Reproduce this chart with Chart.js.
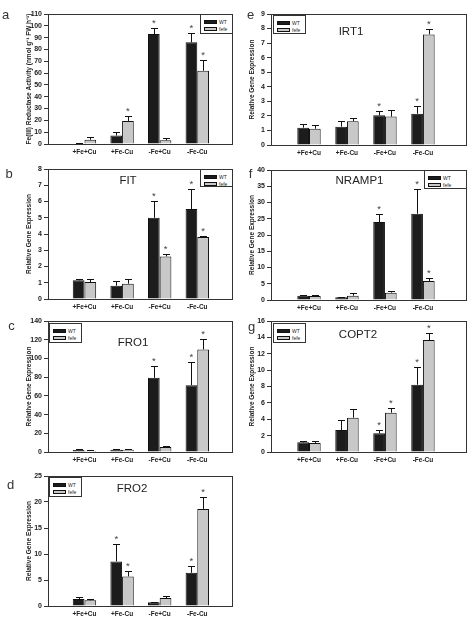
<!DOCTYPE html>
<html><head><meta charset="utf-8">
<script src="https://cdn.jsdelivr.net/npm/chart.js@4.4.0/dist/chart.umd.min.js"></script>
<style>
html,body{margin:0;padding:0;background:#fff;}
#fig{position:relative;width:468px;height:625px;overflow:hidden;background:#fff;font-family:"Liberation Sans",Arial,sans-serif;}
#fig canvas{position:absolute;}
.lt{position:absolute;font-size:13px;color:#333;line-height:1;transform:translate(-50%,-50%);z-index:3;}
.gene{position:absolute;font-size:11.5px;color:#222;transform:translate(-50%,-50%);white-space:nowrap;line-height:1;z-index:3;}
.leg{position:absolute;border:1px solid #333;background:#fff;box-sizing:border-box;z-index:3;}
.leg .sw{position:absolute;left:3px;width:13px;height:4px;border:1px solid #111;box-sizing:border-box;}
.leg .tx{position:absolute;left:18px;font-size:5px;line-height:5px;color:#222;white-space:nowrap;}
</style></head>
<body><div id="fig"></div>
<script>
// ---------- data ----------
const categories = ['+Fe+Cu', '+Fe-Cu', '-Fe+Cu', '-Fe-Cu'];
const seriesNames = ['WT', 'fefe'];

const reductaseWT = [0.5, 7.2, 93, 86];
const reductaseWTErr = [0.3, 3, 5, 8.3];
const reductaseFefe = [3.6, 19.5, 3.1, 62];
const reductaseFefeErr = [2.3, 4.6, 2.2, 9];
const reductaseWTStar = [0, 0, 1, 1];
const reductaseFefeStar = [0, 1, 0, 1];

const fitWT = [1.15, 0.82, 5.0, 5.54];
const fitWTErr = [0.07, 0.27, 1.03, 1.25];
const fitFefe = [1.04, 0.94, 2.62, 3.82];
const fitFefeErr = [0.22, 0.29, 0.15, 0.04];
const fitWTStar = [0, 0, 1, 1];
const fitFefeStar = [0, 0, 1, 1];

const fro1WT = [2.1, 2.5, 79.3, 71.4];
const fro1WTErr = [1, 0.7, 12.5, 24.3];
const fro1Fefe = [1.4, 2.5, 5.4, 109.6];
const fro1FefeErr = [0.3, 0.3, 1.4, 11.4];
const fro1WTStar = [0, 0, 1, 1];
const fro1FefeStar = [0, 0, 0, 1];

const fro2WT = [1.34, 8.57, 0.7, 6.39];
const fro2WTErr = [0.38, 3.26, 0.13, 1.35];
const fro2Fefe = [1.09, 5.69, 1.53, 18.67];
const fro2FefeErr = [0.19, 1.09, 0.38, 2.37];
const fro2WTStar = [0, 1, 0, 1];
const fro2FefeStar = [0, 1, 0, 1];

const irt1WT = [1.19, 1.26, 2.04, 2.15];
const irt1WTErr = [0.25, 0.41, 0.27, 0.53];
const irt1Fefe = [1.12, 1.63, 1.95, 7.6];
const irt1FefeErr = [0.28, 0.22, 0.45, 0.39];
const irt1WTStar = [0, 0, 1, 1];
const irt1FefeStar = [0, 0, 0, 1];

const nramp1WT = [1.33, 0.82, 24.0, 26.56];
const nramp1WTErr = [0.1, 0.2, 2.56, 7.5];
const nramp1Fefe = [1.23, 1.33, 2.26, 5.85];
const nramp1FefeErr = [0.3, 0.7, 0.6, 0.82];
const nramp1WTStar = [0, 0, 1, 1];
const nramp1FefeStar = [0, 0, 0, 1];

const copt2WT = [1.18, 2.69, 2.28, 8.22];
const copt2WTErr = [0.16, 1.26, 0.45, 2.2];
const copt2Fefe = [1.1, 4.19, 4.8, 13.68];
const copt2FefeErr = [0.28, 1.02, 0.6, 0.86];
const copt2WTStar = [0, 0, 1, 1];
const copt2FefeStar = [0, 0, 1, 1];

const yTitleReductase = 'Fe(III) Reductase Activity (nmol g\u207B\u00B9 FW h\u207B\u00B9)';
const yTitleGene = 'Relative Gene Expression';

// ---------- panels (geometry separate from data) ----------
const panels = [
  {letter:'a', lx:5.5, ly:14, gene:null, L:48, T:14, R:233, B:144, xMin:0.03, xMax:4.95, yMax:110, step:10, yTitle:yTitleReductase, tsize:6.5,
   wt:reductaseWT, wtErr:reductaseWTErr, fe:reductaseFefe, feErr:reductaseFefeErr, wtStar:reductaseWTStar, feStar:reductaseFefeStar,
   leg:{x:200, y:14, w:33, h:20}},
  {letter:'b', lx:9, ly:173, gene:'FIT', gx:128, gy:181, L:48, T:169, R:233, B:299, xMin:0.03, xMax:4.95, yMax:8, step:1, yTitle:yTitleGene, tsize:6.5,
   wt:fitWT, wtErr:fitWTErr, fe:fitFefe, feErr:fitFefeErr, wtStar:fitWTStar, feStar:fitFefeStar,
   leg:{x:200, y:169, w:33, h:18}},
  {letter:'c', lx:11.5, ly:325, gene:'FRO1', gx:133, gy:343, L:48, T:321, R:233, B:452, xMin:0.03, xMax:4.95, yMax:140, step:20, yTitle:yTitleGene, tsize:6.5,
   wt:fro1WT, wtErr:fro1WTErr, fe:fro1Fefe, feErr:fro1FefeErr, wtStar:fro1WTStar, feStar:fro1FefeStar,
   leg:{x:49, y:323, w:33, h:20}},
  {letter:'d', lx:10.5, ly:483.5, gene:'FRO2', gx:132, gy:489, L:48, T:476, R:233, B:606, xMin:0.03, xMax:4.95, yMax:25, step:5, yTitle:yTitleGene, tsize:6.5,
   wt:fro2WT, wtErr:fro2WTErr, fe:fro2Fefe, feErr:fro2FefeErr, wtStar:fro2WTStar, feStar:fro2FefeStar,
   leg:{x:49, y:477, w:33, h:20}},
  {letter:'e', lx:250.5, ly:14, gene:'IRT1', gx:351, gy:32, L:271, T:14, R:467, B:145, xMin:0, xMax:5.16, yMax:9, step:1, yTitle:yTitleGene, tsize:6.5,
   wt:irt1WT, wtErr:irt1WTErr, fe:irt1Fefe, feErr:irt1FefeErr, wtStar:irt1WTStar, feStar:irt1FefeStar,
   leg:{x:273, y:15, w:33, h:19}},
  {letter:'f', lx:250.5, ly:173, gene:'NRAMP1', gx:359.5, gy:181, L:271, T:170, R:467, B:300, xMin:0, xMax:5.16, yMax:40, step:5, yTitle:yTitleGene, tsize:6.5,
   wt:nramp1WT, wtErr:nramp1WTErr, fe:nramp1Fefe, feErr:nramp1FefeErr, wtStar:nramp1WTStar, feStar:nramp1FefeStar,
   leg:{x:424, y:170, w:43, h:19}},
  {letter:'g', lx:251.5, ly:326, gene:'COPT2', gx:358, gy:335, L:271, T:321, R:467, B:452, xMin:0, xMax:5.16, yMax:16, step:2, yTitle:yTitleGene, tsize:6.5,
   wt:copt2WT, wtErr:copt2WTErr, fe:copt2Fefe, feErr:copt2FefeErr, wtStar:copt2WTStar, feStar:copt2FefeStar,
   leg:{x:273, y:323, w:33, h:20}}
];

Chart.defaults.font.family = '"Liberation Sans", Arial, sans-serif';

const framePlugin = {
  id: 'frame',
  afterDatasetsDraw(chart) {
    const a = chart.chartArea, ctx = chart.ctx;
    ctx.save();
    ctx.strokeStyle = '#333';
    ctx.lineWidth = 1;
    ctx.strokeRect(Math.round(a.left) + 0.5, Math.round(a.top) + 0.5,
                   Math.round(a.right - a.left) - 1, Math.round(a.bottom - a.top));
    ctx.restore();
  }
};

const errPlugin = {
  id: 'errbars',
  afterDatasetsDraw(chart) {
    const ctx = chart.ctx, ys = chart.scales.y;
    chart.data.datasets.forEach((ds, di) => {
      const meta = chart.getDatasetMeta(di);
      meta.data.forEach((bar, j) => {
        const v = ds.data[j].y, e = ds.err[j];
        const x = Math.round(bar.x) + 0.5;
        const y0 = bar.y;
        const y1 = Math.round(ys.getPixelForValue(v + e)) + 0.5;
        ctx.save();
        ctx.strokeStyle = '#111';
        ctx.lineWidth = 1;
        ctx.beginPath();
        ctx.moveTo(x, y0); ctx.lineTo(x, y1);
        ctx.moveTo(x - 3.5, y1); ctx.lineTo(x + 3.5, y1);
        ctx.stroke();
        if (ds.stars[j]) {
          ctx.fillStyle = '#444';
          ctx.font = '9.5px "Liberation Sans", Arial, sans-serif';
          ctx.textAlign = 'center';
          ctx.textBaseline = 'alphabetic';
          ctx.fillText('*', bar.x, y1 - 2.5);
        }
        ctx.restore();
      });
    });
  }
};

const fig = document.getElementById('fig');

function makePanel(p) {
  const WY = 46, PT = 8, PR = 2, HX = 22;
  const w = p.R - p.L + WY + PR, h = p.B - p.T + PT + HX;
  const cv = document.createElement('canvas');
  cv.width = w; cv.height = h;
  cv.style.left = (p.L - WY) + 'px';
  cv.style.top = (p.T - PT) + 'px';
  cv.style.width = w + 'px';
  cv.style.height = h + 'px';
  fig.appendChild(cv);
  const unit = (p.R - p.L) / (p.xMax - p.xMin);
  const cp = 23.4 / unit;
  new Chart(cv, {
    type: 'bar',
    data: {
      datasets: [
        {label: seriesNames[0], data: p.wt.map((v, i) => ({x: i + 1, y: v})), err: p.wtErr, stars: p.wtStar,
         backgroundColor: '#1c1c1c', borderColor: '#111', borderWidth: 1},
        {label: seriesNames[1], data: p.fe.map((v, i) => ({x: i + 1, y: v})), err: p.feErr, stars: p.feStar,
         backgroundColor: '#c8c8c8', borderColor: '#111', borderWidth: 1}
      ]
    },
    options: {
      responsive: false, animation: false, devicePixelRatio: 1,
      layout: {padding: {top: PT, right: PR, left: 0, bottom: 0}},
      plugins: {legend: {display: false}, tooltip: {enabled: false}, title: {display: false}},
      datasets: {bar: {categoryPercentage: cp, barPercentage: 1}},
      scales: {
        x: {
          type: 'linear', min: p.xMin, max: p.xMax, offset: false,
          grid: {display: false, drawTicks: false, tickLength: 0},
          border: {display: false},
          ticks: {autoSkip: false, maxRotation: 0, padding: 4, color: '#222',
                  font: {size: 6.5, weight: 'bold'},
                  callback: (v) => categories[v - 1] !== undefined ? categories[v - 1] : ''},
          afterBuildTicks: (s) => { s.ticks = categories.map((c, i) => ({value: i + 1})); },
          afterFit: (s) => { s.height = HX; }
        },
        y: {
          min: 0, max: p.yMax,
          ticks: {stepSize: p.step, padding: 2, color: '#222', font: {size: 7, weight: 'bold'}},
          grid: {drawOnChartArea: false, drawTicks: true, tickLength: 4, color: '#333', lineWidth: 1},
          border: {display: false},
          title: {display: true, text: p.yTitle, color: '#222',
                  font: {size: p.tsize, weight: 'bold'}, padding: {top: 23, bottom: 0}},
          afterFit: (s) => { s.width = WY; }
        }
      }
    },
    plugins: [framePlugin, errPlugin]
  });

  // panel letter
  const lt = document.createElement('div');
  lt.className = 'lt'; lt.textContent = p.letter;
  lt.style.left = p.lx + 'px'; lt.style.top = p.ly + 'px';
  fig.appendChild(lt);
  // gene name
  if (p.gene) {
    const g = document.createElement('div');
    g.className = 'gene'; g.textContent = p.gene;
    g.style.left = p.gx + 'px'; g.style.top = p.gy + 'px';
    fig.appendChild(g);
  }
  // legend
  const lg = document.createElement('div');
  lg.className = 'leg';
  lg.style.left = p.leg.x + 'px'; lg.style.top = p.leg.y + 'px';
  lg.style.width = p.leg.w + 'px'; lg.style.height = p.leg.h + 'px';
  const fills = ['#1c1c1c', '#c8c8c8'];
  seriesNames.forEach((name, i) => {
    const sw = document.createElement('div');
    sw.className = 'sw';
    sw.style.top = (5 + i * 7) + 'px';
    sw.style.background = fills[i];
    lg.appendChild(sw);
    const tx = document.createElement('div');
    tx.className = 'tx';
    tx.style.top = (4.5 + i * 7) + 'px';
    tx.textContent = name;
    lg.appendChild(tx);
  });
  fig.appendChild(lg);
}

panels.forEach(makePanel);
</script>
</body></html>
